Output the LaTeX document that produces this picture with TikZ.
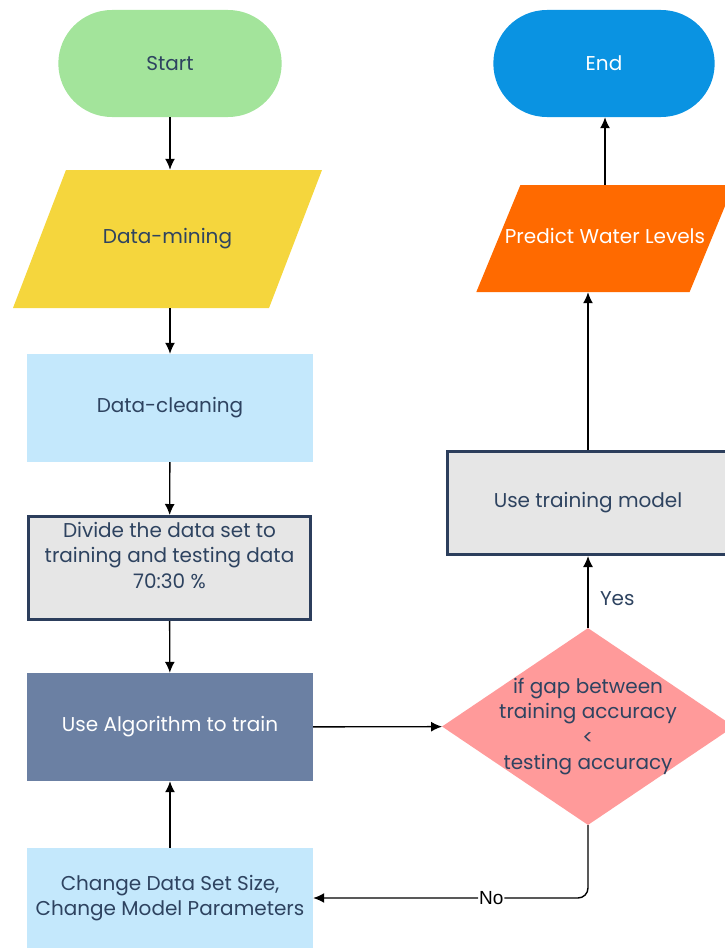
\documentclass[tikz,border=0pt]{standalone}
\usepackage{fontspec}
\setmainfont{Poppins}
\newfontfamily\arialfont{Liberation Sans}
\usetikzlibrary{shapes.geometric,shapes.misc,arrows.meta}
\definecolor{navytext}{HTML}{2E4360}
\definecolor{navyline}{HTML}{2C3E5C}
\definecolor{startgreen}{HTML}{A3E49B}
\definecolor{miningyellow}{HTML}{F5D63D}
\definecolor{cleanblue}{HTML}{C4E8FC}
\definecolor{boxgray}{HTML}{E6E6E6}
\definecolor{algslate}{HTML}{6B80A3}
\definecolor{gapsalmon}{HTML}{FF9A9A}
\definecolor{predorange}{HTML}{FF6A00}
\definecolor{endblue}{HTML}{0A93E2}
\tikzset{
  txt/.style={font=\fontsize{20pt}{25.5pt}\selectfont},
  term/.style={rounded rectangle, txt, minimum width=230pt, minimum height=107pt},
  io/.style={trapezium, txt, trapezium stretches body, inner xsep=0pt,
    text height=13pt, text depth=4pt},
  box/.style={rectangle, txt, align=center, text=navytext, inner sep=0pt,
    minimum width=286pt, minimum height=108pt},
  framed/.style={box, fill=boxgray, draw=navyline, line width=3pt},
  arr/.style={-{Latex[length=11pt,width=10pt]}, line width=1.4pt}
}
\begin{document}
\begin{tikzpicture}[x=1pt,y=-1pt]
  \useasboundingbox (0,0) rectangle (724,950);
  \node[term, fill=startgreen, text=navytext] (start) at (170,63.5) {Start};
  \node[io, fill=miningyellow, text=navytext, trapezium left angle=69, trapezium right angle=111,
    inner ysep=60.5pt, minimum width=309pt] (mining) at (167.5,239) {Data-mining};
  \node[box, fill=cleanblue] (cleaning) at (170,408) {Data-cleaning};
  \node[framed, minimum width=282pt, minimum height=103pt] (divide) at (169.5,568)
    {Divide the data set to\\training and testing data\\70:30 \%\\\mbox{}};
  \node[box, fill=algslate, text=white] (algo) at (170,727) {Use Algorithm to train};
  \node[box, fill=cleanblue, minimum height=100pt] (change) at (170,898)
    {Change Data Set Size,\\Change Model Parameters};
  \node[diamond, fill=gapsalmon, minimum width=292pt, minimum height=197pt, inner sep=0pt,
    label={[txt, text=navytext, align=center]center:{if gap between\\training accuracy\\<\\testing accuracy}}]
    (gap) at (588,726.5) {};
  \node[framed, minimum width=281pt, minimum height=103pt] (usemodel) at (588,503) {Use training model};
  \node[io, fill=predorange, text=white, trapezium left angle=67.6, trapezium right angle=112.4,
    inner ysep=45pt, inner xsep=-15.5pt, minimum width=246pt] (predict) at (605,238.5) {Predict Water Levels};
  \node[term, fill=endblue, text=white, minimum width=228pt] (end) at (604,63.5) {End};

  \draw[arr] (start.south) -- (start.south |- mining.north);
  \draw[arr] (cleaning.north |- mining.south) -- (cleaning.north);
  \draw[arr] (cleaning) -- (divide);
  \draw[arr] (divide) -- (algo);
  \draw[arr] (change) -- (algo);
  \draw[arr] (algo) -- (gap);
  \draw[arr] (gap) -- node[pos=0.4, right, xshift=8pt, txt, text=navytext] {Yes} (usemodel);
  \draw[arr] (usemodel.north) -- (usemodel.north |- predict.south);
  \draw[arr] (predict.north) -- (predict.north |- end.south);
  \draw[arr, rounded corners=10pt] (gap.south) |- node[pos=0.676, fill=white, inner sep=1pt,
    font=\arialfont\fontsize{19pt}{22pt}\selectfont] {No} (change.east);
\end{tikzpicture}
\end{document}
